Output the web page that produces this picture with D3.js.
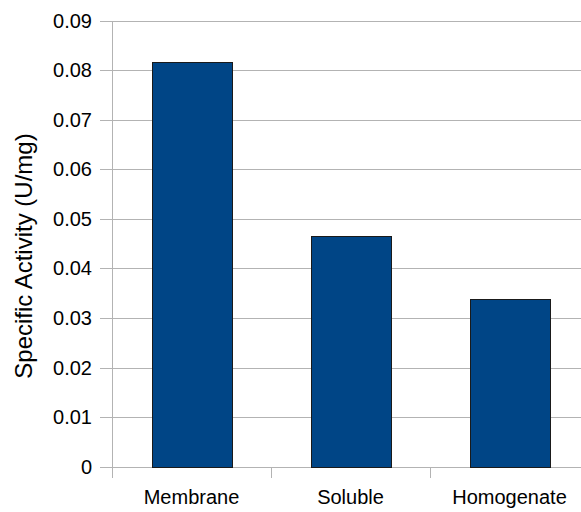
<!DOCTYPE html>
<html>
<head>
<meta charset="utf-8">
<script src="https://cdn.jsdelivr.net/npm/d3@7"></script>
<style>
  html, body { margin: 0; padding: 0; background: #fff; }
  svg { display: block; }
  text { font-family: "Liberation Sans", Arial, sans-serif; fill: #000; }
</style>
</head>
<body>
<script>
const categories = ["Membrane", "Soluble", "Homogenate"];
const values = [0.0817, 0.0466, 0.0338];
const yTicks = [0, 0.01, 0.02, 0.03, 0.04, 0.05, 0.06, 0.07, 0.08, 0.09];
const yTickLabels = ["0", "0.01", "0.02", "0.03", "0.04", "0.05", "0.06", "0.07", "0.08", "0.09"];
const yTitle = "Specific Activity (U/mg)";

const W = 581, H = 512;
const svg = d3.select("body").append("svg").attr("width", W).attr("height", H);

const plotLeft = 112, plotRight = 589, plotTop = 20.7, plotBottom = 466.7;

const y = d3.scaleLinear().domain([0, 0.09]).range([plotBottom, plotTop]);
const x = d3.scaleBand().domain(categories).range([plotLeft, plotRight])
  .paddingInner(0.5).paddingOuter(0.25);

const gridColor = "#b3b3b3";

// gridlines
svg.append("g").selectAll("line").data(yTicks).join("line")
  .attr("x1", plotLeft - 12).attr("x2", plotRight)
  .attr("y1", d => Math.round(y(d)) + 0.5).attr("y2", d => Math.round(y(d)) + 0.5)
  .attr("stroke", gridColor).attr("stroke-width", 1);

// y axis line
svg.append("line")
  .attr("x1", plotLeft + 0.5).attr("x2", plotLeft + 0.5)
  .attr("y1", Math.round(plotTop)).attr("y2", Math.round(plotBottom) + 11)
  .attr("stroke", gridColor);

// x category boundary ticks
const step = x.step();
const boundaries = categories.map((c, i) => x(c) - step * 0.25);
svg.append("g").selectAll("line").data(boundaries).join("line")
  .attr("x1", d => Math.round(d) + 0.5).attr("x2", d => Math.round(d) + 0.5)
  .attr("y1", Math.round(plotBottom)).attr("y2", Math.round(plotBottom) + 11)
  .attr("stroke", gridColor);

// y tick labels
svg.append("g").selectAll("text").data(yTicks).join("text")
  .attr("x", 92).attr("y", d => y(d))
  .attr("dy", "0.35em")
  .attr("text-anchor", "end")
  .attr("font-size", 20)
  .text((d, i) => yTickLabels[i]);

// bars
svg.append("g").selectAll("rect").data(categories).join("rect")
  .attr("x", d => Math.round(x(d)) + 0.5)
  .attr("y", (d, i) => Math.round(y(values[i])) + 0.5)
  .attr("width", Math.round(x.bandwidth()))
  .attr("height", (d, i) => Math.round(y(0)) - Math.round(y(values[i])))
  .attr("fill", "#004586")
  .attr("stroke", "#1a1a1a")
  .attr("stroke-width", 1);

// x labels
svg.append("g").selectAll("text").data(categories).join("text")
  .attr("x", d => x(d) + x.bandwidth() / 2)
  .attr("y", 504)
  .attr("text-anchor", "middle")
  .attr("font-size", 20)
  .text(d => d);

// y title
svg.append("text")
  .attr("transform", `translate(32, 256) rotate(-90)`)
  .attr("text-anchor", "middle")
  .attr("font-size", 24)
  .text(yTitle);
</script>
</body>
</html>
